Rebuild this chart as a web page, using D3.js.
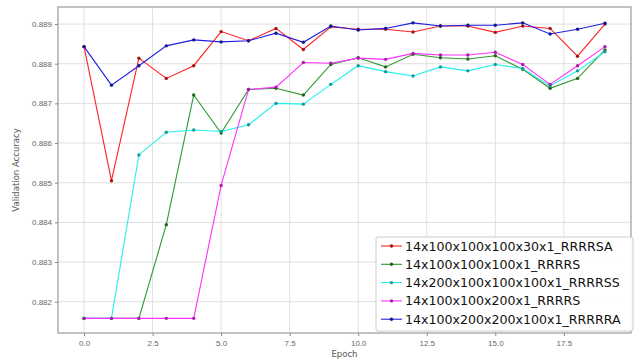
<!DOCTYPE html>
<html>
<head>
<meta charset="utf-8">
<script src="https://cdn.jsdelivr.net/npm/d3@7.9.0/dist/d3.min.js"></script>
<style>
  body { margin: 0; background: #fff; }
  svg { display: block; font-family: "DejaVu Sans", sans-serif; }
  .tick text { fill: #666; font-size: 8px; }
</style>
</head>
<body>
<svg id="chart" width="636" height="360"></svg>
<script>
const epochs = d3.range(0, 20);
const xTicks = [0, 2.5, 5, 7.5, 10, 12.5, 15, 17.5];
const yTicks = [0.882, 0.883, 0.884, 0.885, 0.886, 0.887, 0.888, 0.889];

const seriesNames = [
  "14x100x100x100x30x1_RRRRSA",
  "14x100x100x100x1_RRRRS",
  "14x200x100x100x100x1_RRRRSS",
  "14x100x100x200x1_RRRRS",
  "14x100x200x200x100x1_RRRRRA"
];
const seriesColors = ["#ff2020", "#2e9a2e", "#20f0f0", "#ff30ff", "#2020e0"];

const redVals = [0.88843, 0.88505, 0.88814, 0.88763, 0.88795, 0.88881, 0.88858, 0.88889, 0.88836, 0.88893,
                 0.88887, 0.88887, 0.88880, 0.88895, 0.88895, 0.88879, 0.88895, 0.88889, 0.88819, 0.88900];
const greenVals = [0.88158, 0.88158, 0.88158, 0.88394, 0.88721, 0.88625, 0.88735, 0.88738, 0.88721, 0.88798,
                   0.88815, 0.88792, 0.88824, 0.88815, 0.88812, 0.88820, 0.88786, 0.88738, 0.88763, 0.88835];
const cyanVals = [0.88158, 0.88158, 0.88570, 0.88627, 0.88633, 0.88629, 0.88646, 0.88700, 0.88698, 0.88748,
                  0.88795, 0.88780, 0.88769, 0.88792, 0.88782, 0.88798, 0.88788, 0.88744, 0.88782, 0.88830];
const magentaVals = [0.88158, 0.88158, 0.88158, 0.88158, 0.88158, 0.88493, 0.88735, 0.88741, 0.88803, 0.88801,
                     0.88814, 0.88811, 0.88826, 0.88822, 0.88822, 0.88829, 0.88798, 0.88748, 0.88795, 0.88843];
const blueVals = [0.88843, 0.88746, 0.88795, 0.88845, 0.88860, 0.88855, 0.88858, 0.88877, 0.88854, 0.88895,
                  0.88885, 0.88889, 0.88903, 0.88895, 0.88897, 0.88897, 0.88903, 0.88875, 0.88887, 0.88902];

const allSeries = [redVals, greenVals, cyanVals, magentaVals, blueVals];

const svg = d3.select("#chart");
const margin = { left: 58, right: 5, top: 7, bottom: 27 };
const W = 636, H = 360;

const x = d3.scaleLinear().domain([-0.95, 19.95]).range([margin.left, W - margin.right]);
const y = d3.scaleLinear().domain([0.88121, 0.88943]).range([H - margin.bottom, margin.top]);

// grid
svg.append("g").selectAll("line").data(xTicks).join("line")
  .attr("x1", d => x(d)).attr("x2", d => x(d))
  .attr("y1", margin.top).attr("y2", H - margin.bottom)
  .attr("stroke", "#e0e0e0").attr("stroke-width", 1);
svg.append("g").selectAll("line").data(yTicks).join("line")
  .attr("x1", margin.left).attr("x2", W - margin.right)
  .attr("y1", d => y(d)).attr("y2", d => y(d))
  .attr("stroke", "#e0e0e0").attr("stroke-width", 1);

// axes
const xAxis = svg.append("g")
  .attr("transform", `translate(0,${H - margin.bottom})`)
  .call(d3.axisBottom(x).tickValues(xTicks).tickFormat(d3.format(".1f")).tickSize(3).tickPadding(4));
const yAxis = svg.append("g")
  .attr("transform", `translate(${margin.left},0)`)
  .call(d3.axisLeft(y).tickValues(yTicks).tickFormat(d3.format(".3f")).tickSize(3).tickPadding(3));
[xAxis, yAxis].forEach(a => {
  a.select(".domain").remove();
  a.selectAll(".tick line").attr("stroke", "#888");
});

// frame
svg.append("rect")
  .attr("x", margin.left).attr("y", margin.top)
  .attr("width", W - margin.right - margin.left)
  .attr("height", H - margin.bottom - margin.top)
  .attr("fill", "none").attr("stroke", "#999").attr("stroke-width", 1.2);

// lines
const line = d3.line().x((d, i) => x(epochs[i])).y(d => y(d));

allSeries.forEach((vals, k) => {
  svg.append("path")
    .datum(vals)
    .attr("d", line)
    .attr("fill", "none")
    .attr("stroke", seriesColors[k])
    .attr("stroke-width", 1.1);
  svg.append("g").selectAll("circle").data(vals).join("circle")
    .attr("cx", (d, i) => x(epochs[i]))
    .attr("cy", d => y(d))
    .attr("r", 1.7)
    .attr("fill", d3.color(seriesColors[k]).darker(1.2));
});

// axis labels
svg.append("text")
  .attr("x", (margin.left + W - margin.right) / 2).attr("y", 357)
  .attr("text-anchor", "middle").attr("font-size", 8.5).attr("fill", "#555")
  .text("Epoch");
svg.append("text")
  .attr("transform", `translate(19,${(margin.top + H - margin.bottom) / 2}) rotate(-90)`)
  .attr("text-anchor", "middle").attr("font-size", 8.5).attr("fill", "#555")
  .text("Validation Accuracy");

// legend
const lg = svg.append("g").attr("transform", "translate(376,237)");
lg.append("rect")
  .attr("width", 257).attr("height", 94).attr("rx", 2)
  .attr("fill", "#fff").attr("fill-opacity", 0.9)
  .attr("stroke", "#ccc");
seriesNames.forEach((name, k) => {
  const yy = 9 + k * 18.3;
  lg.append("line").attr("x1", 5).attr("x2", 26).attr("y1", yy).attr("y2", yy)
    .attr("stroke", seriesColors[k]).attr("stroke-width", 1.1);
  lg.append("circle").attr("cx", 15.5).attr("cy", yy).attr("r", 1.7)
    .attr("fill", d3.color(seriesColors[k]).darker(1.2));
  lg.append("text").attr("x", 29).attr("y", yy).attr("dy", "0.36em")
    .attr("font-size", 12.6).attr("fill", "#111")
    .text(name);
});
</script>
</body>
</html>
